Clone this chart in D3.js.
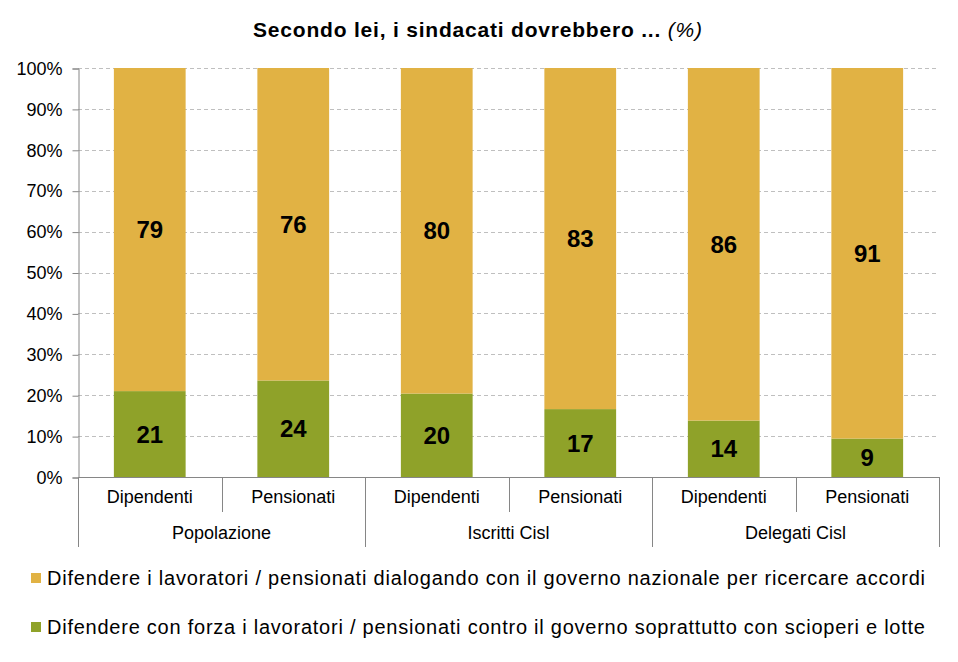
<!DOCTYPE html>
<html><head><meta charset="utf-8">
<script src="https://cdn.jsdelivr.net/npm/d3@7/dist/d3.min.js"></script>
<style>body{margin:0;background:#fff}svg{display:block;font-family:"Liberation Sans",Arial,sans-serif}</style>
</head><body><svg id="c" width="958" height="662"></svg>
<script>
const categories = ["Dipendenti","Pensionati","Dipendenti","Pensionati","Dipendenti","Pensionati"];
const groups = ["Popolazione","Iscritti Cisl","Delegati Cisl"];
const greenValues = [21.0, 23.6, 20.4, 16.6, 13.8, 9.4];
const yellowValues = [79.0, 76.4, 79.6, 83.4, 86.2, 90.6];
const yTicks = [0,10,20,30,40,50,60,70,80,90,100];
const seriesNames = [
  "Difendere i lavoratori / pensionati dialogando con il governo nazionale per ricercare accordi",
  "Difendere con forza i lavoratori / pensionati contro il governo soprattutto con scioperi e lotte"
];
const colors = {yellow:"#E1B244", green:"#8FA229"};

(function(){
const svg = d3.select("#c");
const pL = 78, pR = 939, pT = 68, pB = 477;
const idx = d3.range(categories.length);
const x = d3.scaleBand().domain(idx).range([pL,pR]).paddingInner(0.5).paddingOuter(0.25);
const xStep = (pR-pL)/categories.length;
const y = d3.scaleLinear().domain([0,100]).range([pB,pT]);

svg.append("g").selectAll("line").data(yTicks.filter(d=>d>0)).join("line")
  .attr("x1",pL).attr("x2",pR).attr("y1",d=>Math.round(y(d))+0.5).attr("y2",d=>Math.round(y(d))+0.5)
  .attr("stroke","#BFBFBF").attr("stroke-dasharray","4,3").attr("stroke-width",1);

const yAxis = d3.axisLeft(y).tickValues(yTicks).tickFormat(d=>d+"%").tickSize(6).tickPadding(10);
const ya = svg.append("g").attr("transform",`translate(${pL+0.5},0.5)`).call(yAxis);
ya.select(".domain").attr("stroke","#868686");
ya.selectAll(".tick line").attr("stroke","#868686");
ya.selectAll(".tick text").attr("font-size",18).attr("fill","#000").attr("font-family","Liberation Sans, Arial, sans-serif");

const stackData = idx.map(i=>({i, green:greenValues[i], yellow:yellowValues[i]}));
const stack = d3.stack().keys(["green","yellow"]).offset(d3.stackOffsetExpand);
const series = stack(stackData);
svg.append("g").selectAll("g").data(series).join("g")
  .attr("fill",d=>colors[d.key])
  .selectAll("rect").data(d=>d).join("rect")
  .attr("x",d=>x(d.data.i)).attr("width",x.bandwidth())
  .attr("y",d=>y(d[1]*100)).attr("height",d=>y(d[0]*100)-y(d[1]*100));

const lab = svg.append("g");
series.forEach(s=>{
  s.forEach(d=>{
    lab.append("text").attr("x",x(d.data.i)+x.bandwidth()/2)
      .attr("y",(y(d[0]*100)+y(d[1]*100))/2).attr("dy","0.36em")
      .attr("text-anchor","middle").attr("font-weight","bold").attr("font-size",24)
      .text(Math.round(d.data[s.key]));
  });
});

const xa = svg.append("g");
xa.append("line").attr("x1",pL).attr("x2",pR).attr("y1",pB+0.5).attr("y2",pB+0.5).attr("stroke","#868686");
d3.range(categories.length+1).forEach(k=>{
  const xx = Math.round(pL + k*xStep)+0.5;
  const isGroup = k%2===0;
  xa.append("line").attr("x1",xx).attr("x2",xx).attr("y1",pB).attr("y2",isGroup?547:512).attr("stroke","#868686");
});
xa.selectAll("text.cat").data(idx).join("text").attr("class","cat")
  .attr("x",i=>x(i)+x.bandwidth()/2).attr("y",497).attr("dy","0.35em")
  .attr("text-anchor","middle").attr("font-size",18).text(i=>categories[i]);
xa.selectAll("text.grp").data(groups).join("text").attr("class","grp")
  .attr("x",(d,g)=>pL+(g*2+1)*xStep).attr("y",533).attr("dy","0.35em")
  .attr("text-anchor","middle").attr("font-size",18).text(d=>d);

const t = svg.append("text").attr("x",253).attr("y",30).attr("dy","0.35em").attr("font-size",21)
  .attr("textLength",449).attr("lengthAdjust","spacing");
t.append("tspan").attr("font-weight","bold").text("Secondo lei, i sindacati dovrebbero ... ");
t.append("tspan").attr("font-style","italic").text("(%)");

const lg = svg.append("g");
[["yellow",578],["green",627]].forEach(([c,yy],k)=>{
  lg.append("rect").attr("x",31).attr("y",yy-5).attr("width",10).attr("height",10).attr("fill",colors[c]);
  lg.append("text").attr("x",47).attr("y",yy).attr("dy","0.35em").attr("font-size",20)
    .attr("textLength",878).attr("lengthAdjust","spacing").text(seriesNames[k]);
});
})();
</script></body></html>
